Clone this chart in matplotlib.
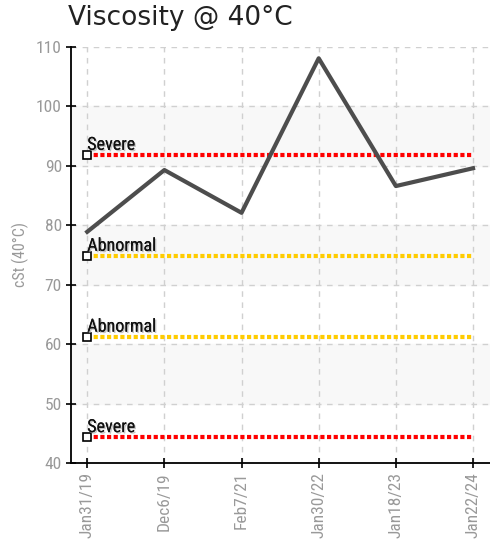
import matplotlib
matplotlib.use("Agg")
import matplotlib.pyplot as plt
import matplotlib.patheffects as pe

# data
tanggal = ["Jan31/19", "Dec6/19", "Feb7/21", "Jan30/22", "Jan18/23", "Jan22/24"]
viskositas = [78.9, 89.3, 82.1, 108.1, 86.6, 89.6]

batas_nama = ["Severe", "Abnormal", "Abnormal", "Severe"]
batas_nilai = [91.8, 74.8, 61.2, 44.3]
batas_warna = ["#ff0000", "#ffcc00", "#ffcc00", "#ff0000"]

yticks = [40, 50, 60, 70, 80, 90, 100, 110]

sempit = "Roboto Condensed"
abu = "#999999"

fig = plt.figure(figsize=(4.9, 5.49), dpi=100)
ax = fig.add_axes([71 / 490, 1 - 463 / 549, (490 - 71) / 490, (463 - 47) / 549])

x = list(range(len(tanggal)))

# pita abu-abu selang-seling
for lo in [50, 70, 90]:
    ax.axhspan(lo, lo + 10, color="#f8f8f8", zorder=0)

ax.grid(True, linestyle=(0, (4, 4)), color="#d0d0d0", linewidth=1, zorder=1)

# garis batas (severe / abnormal)
for nama, nilai, warna in zip(batas_nama, batas_nilai, batas_warna):
    ax.plot([x[0], x[-1]], [nilai, nilai], color=warna, linewidth=3,
            linestyle=(0, (1, 0.6)), zorder=2, solid_capstyle="butt")
    ax.plot([x[0]], [nilai], marker="s", markersize=6, markerfacecolor="white",
            markeredgecolor="black", markeredgewidth=1.2, zorder=4, clip_on=False)
    ax.text(x[0], nilai + 0.9, nama, fontsize=13, family=sempit, color="#111111",
            ha="left", va="baseline", zorder=5,
            path_effects=[pe.withSimplePatchShadow(offset=(1, -1), shadow_rgbFace="#aaaaaa", alpha=0.7), pe.Normal()])

# garis data
ax.plot(x, viskositas, color="#4d4d4d", linewidth=3, zorder=3)

ax.set_xlim(-0.21, 5.22)
ax.set_ylim(40, 110)
ax.set_yticks(yticks)
ax.set_xticks(x)
ax.set_xticklabels(tanggal, rotation=90)

for lbl in ax.get_yticklabels() + ax.get_xticklabels():
    lbl.set_family(sempit)
    lbl.set_color(abu)
    lbl.set_fontsize(12.5)

ax.tick_params(direction="inout", length=7, width=1.2, color="black", pad=3)
ax.spines["top"].set_visible(False)
ax.spines["right"].set_visible(False)
ax.spines["left"].set_linewidth(1.3)
ax.spines["bottom"].set_linewidth(1.3)

ax.set_ylabel("cSt (40°C)", fontsize=11.5, color=abu, family=sempit, labelpad=5)

fig.text(68 / 490, 1 - 18 / 549, "Viscosity @ 40°C", fontsize=19, color="#222222",
         ha="left", va="center")

fig.savefig("out.png", dpi=100)
